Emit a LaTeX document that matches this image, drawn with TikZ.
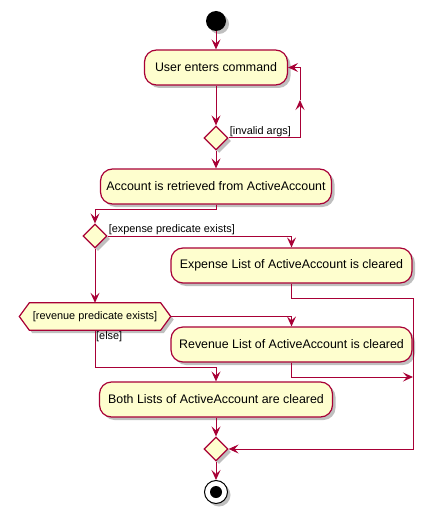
\documentclass[tikz,border=0pt]{standalone}
\usepackage{fontspec}
\setmainfont{Liberation Sans}
\usetikzlibrary{arrows.meta,shadows,calc,shapes.geometric,backgrounds}
\definecolor{pbord}{HTML}{A80036}
\definecolor{pfill}{HTML}{FEFECE}
\begin{document}
\begin{tikzpicture}[
  x=1pt, y=-1pt,
  sh/.style={drop shadow={shadow xshift=3pt, shadow yshift=-3pt, fill=black, opacity=0.25}},
  act/.style={rectangle, rounded corners=12pt, draw=pbord, fill=pfill, line width=1.2pt, minimum height=35pt, inner sep=0pt, font=\fontsize{12.4}{14}\selectfont, sh},
  dec/.style={diamond, draw=pbord, fill=pfill, line width=1.2pt, minimum width=24pt, minimum height=24pt, inner sep=0pt, aspect=1, sh},
  hexnode/.style={rectangle, minimum width=151pt, minimum height=27pt, inner sep=0pt, font=\fontsize{10.9}{12}\selectfont},
  hexshape/.style={draw=pbord, fill=pfill, line width=1.2pt, sh},
  startc/.style={circle, fill=black, minimum size=20pt, inner sep=0pt, sh},
  stopc/.style={circle, draw=black, fill=white, line width=1pt, minimum size=23pt, inner sep=0pt, sh},
  arr/.style={draw=pbord, line width=1pt, -{Stealth[length=10pt,width=9pt,inset=4pt]}},
  lbl/.style={font=\fontsize{10.9}{12}\selectfont, inner sep=1pt},
]
\useasboundingbox (0,0) rectangle (433,513);

\node[startc] (start) at (216,21) {};
\node[act, minimum width=143pt] (b1) at (216,67.5) {User enters command};
\node[dec] (d1) at (216,138) {};
\node[act, minimum width=231pt] (b2) at (216,186.5) {Account is retrieved from ActiveAccount};
\node[dec] (d2) at (95,236) {};
\node[act, minimum width=241pt] (b3) at (291.5,265.5) {Expense List of ActiveAccount is cleared};
\node[hexnode] (hex) at (95,316.5) {[revenue predicate exists]};
\begin{pgfonlayer}{background}
\path[hexshape] (hex.west) -- ($(hex.north west)+(10,0)$) -- ($(hex.north east)+(-10,0)$) -- (hex.east) -- ($(hex.south east)+(-10,0)$) -- ($(hex.south west)+(10,0)$) -- cycle;
\end{pgfonlayer}
\node[act, minimum width=241pt] (b4) at (291.5,344.5) {Revenue List of ActiveAccount is cleared};
\node[act, minimum width=233pt] (b5) at (216,399.5) {Both Lists of ActiveAccount are cleared};
\node[dec] (d4) at (216,449) {};
\node[stopc] (stop) at (216,492) {};
\fill[black] (stop.center) circle (6pt);

\draw[arr] (start) -- (b1);
\draw[arr] (b1) -- (d1);
\coordinate (lm) at (300,100);
\draw[arr] (d1.east) -| (lm);
\draw[arr] (lm) |- (b1.east);
\node[lbl, anchor=south west] (linv) at (d1.east) {[invalid args]};
\draw[arr] (d1) -- (b2);
\draw[arr] (b2.south) -- ++(0,5) -| (d2.north);
\draw[arr] (d2.east) -| (b3.north);
\node[lbl, anchor=south west] (lexp) at (d2.east) {[expense predicate exists]};
\coordinate (r1) at (413,298);
\coordinate (r2) at (413,377);
\draw[arr] (b3.south) |- (r1) |- (d4.east);
\draw[arr] (d2) -- (hex);
\draw[arr] (hex.east) -| (b4.north);
\draw[arr] (b4.south) |- (r2);
\draw[arr] (hex.south) -- ++(0,37) -| (b5.north);
\node[lbl, anchor=north west] (lelse) at (hex.south) {[else]};
\draw[arr] (b5) -- (d4);
\draw[arr] (d4) -- (stop);
\end{tikzpicture}
\end{document}
